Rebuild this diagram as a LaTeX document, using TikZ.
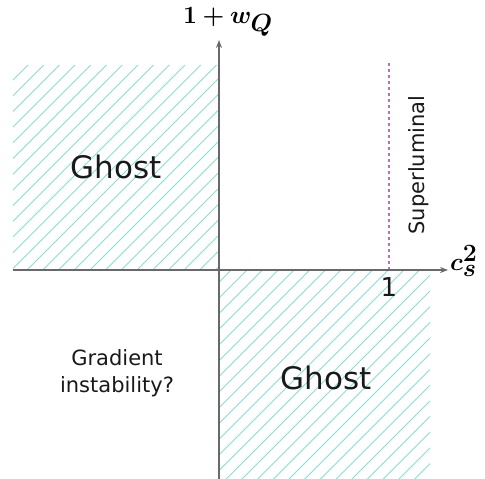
\documentclass[tikz,border=0pt]{standalone}
\usepackage{amsmath,bm}
\usepackage{fontspec}
\setmainfont{DejaVu Sans}
\usetikzlibrary{arrows.meta}
\definecolor{hatchc}{RGB}{135,222,212}
\definecolor{axisc}{RGB}{105,105,105}
\definecolor{dashc}{RGB}{180,115,180}
\definecolor{textc}{RGB}{25,25,25}
\newcommand{\bigscr}[1]{\scalebox{1.2}{$\scriptstyle\boldsymbol{#1}$}}
\begin{document}
\begin{tikzpicture}[x=1pt,y=-1pt,
  hatchline/.style={draw=hatchc, line width=0.9pt},
  axisline/.style={draw=axisc, line width=1.4pt, -{Stealth[length=8pt,width=6pt]}},
  dashline/.style={draw=dashc, line width=1.1pt, dash pattern=on 3pt off 3pt},
  biglbl/.style={font=\fontsize{31}{36}\selectfont, text=textc, inner sep=0pt},
  midlbl/.style={font=\fontsize{21}{27}\selectfont, text=textc, inner sep=0pt, align=center},
  mathlbl/.style={font=\fontsize{29}{31}\selectfont, text=black, inner sep=0pt}]
\useasboundingbox (0,0) rectangle (485,479);
% hatched regions
\begin{scope}
  \clip (13,65) rectangle (219,270);
  \foreach \k in {-2,...,60} {
    \pgfmathsetmacro{\c}{93+15.7*\k}
    \draw[hatchline] (\c,0) -- (\c-500,500);
  }
\end{scope}
\begin{scope}
  \clip (219,270) rectangle (430,479);
  \foreach \k in {-2,...,60} {
    \pgfmathsetmacro{\c}{93+15.7*\k}
    \draw[hatchline] (\c,0) -- (\c-500,500);
  }
\end{scope}
% axes
\coordinate (ybot) at (219,479);
\coordinate (ytop) at (219,40);
\coordinate (xleft) at (13,270);
\coordinate (xright) at (448,270);
\coordinate (dtop) at (389,63);
\coordinate (dbot) at (389,270);
\draw[dashline] (dtop) -- (dbot);
\draw[axisline] (ybot) -- (ytop);
\draw[axisline] (xleft) -- (xright);
% labels
\node[mathlbl] (ylab) at (228,22) {$\boldsymbol{1+w}_{\bigscr{Q}}$};
\node[mathlbl, anchor=west] (xlab) at (450,261) {$\boldsymbol{c}^{\bigscr{2}}_{\bigscr{s}}$};
\node[font=\fontsize{26}{30}\selectfont, text=textc, inner sep=0pt] (one) at (389,287) {1};
\node[biglbl] (ghost1) at (116,167) {Ghost};
\node[biglbl] (ghost2) at (326,378) {Ghost};
\node[midlbl] (grad) at (117,373) {Gradient\\instability?};
\node[midlbl, rotate=90] (super) at (419,165) {Superluminal};
\end{tikzpicture}
\end{document}
